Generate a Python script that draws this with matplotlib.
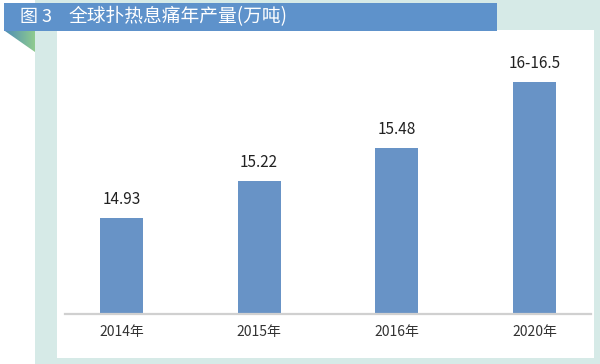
import numpy as np
import matplotlib
matplotlib.use("Agg")
import matplotlib.pyplot as plt
from matplotlib.patches import Rectangle, Polygon

plt.rcParams['font.family'] = ['Noto Sans CJK SC', 'DejaVu Sans']

# data
years = ["2014年", "2015年", "2016年", "2020年"]
output = [14.93, 15.22, 15.48, 16.0]
value_labels = ["14.93", "15.22", "15.48", "16-16.5"]
fig_no = "图 3"
title = "全球扑热息痛年产量(万吨)"

W, H = 600, 364
fig = plt.figure(figsize=(W / 100, H / 100), dpi=100)
fig.patch.set_facecolor("white")

# background decoration in pixel coords
bg = fig.add_axes([0, 0, 1, 1])
bg.axis("off")
bg.add_patch(Rectangle((35, 0), W - 35, H, color="#d6eae7", lw=0))
bg.add_patch(Rectangle((57, 30), 537, 328, color="white", lw=0))
bg.add_patch(Rectangle((4, 3), 493, 28, color="#5e92cb", lw=0))

# folded corner with a gradient
tri = Polygon([(5, 31), (35, 31), (35, 52)], closed=True, facecolor="none", lw=0)
bg.add_patch(tri)
grad = np.linspace(0, 1, 64).reshape(1, -1)
cmap = matplotlib.colors.LinearSegmentedColormap.from_list("fold", ["#4f8fb5", "#8fcb8f"])
im = bg.imshow(grad, extent=(5, 35, 52, 31), cmap=cmap, aspect="auto", zorder=2)
im.set_clip_path(tri)
bg.set_xlim(0, W)
bg.set_ylim(H, 0)

bg.text(20, 17, fig_no, color="white", fontsize=13, va="center", ha="left")
bg.text(69, 17, title, color="white", fontsize=13.5, va="center", ha="left")

# main chart
ax_left, ax_right = 65, 591
ax_bottom, ax_top = 314, 44
ax = fig.add_axes([ax_left / W, (H - ax_bottom) / H,
                   (ax_right - ax_left) / W, (ax_bottom - ax_top) / H])
ax.patch.set_alpha(0)

x = np.arange(len(years))
ax.bar(x, output, width=0.312, color="#6893c6", zorder=2)

px_per_unit = 127.3
y0 = 14.176
ax.set_ylim(y0, y0 + (ax_bottom - ax_top) / px_per_unit)
ax.set_xlim(-0.409, 3.409)

for xi, v, lab in zip(x, output, value_labels):
    ax.annotate(lab, (xi, v), xytext=(0, 7), textcoords="offset points",
                ha="center", va="bottom", fontsize=11, color="#222222")

ax.set_xticks(x)
ax.set_xticklabels(years, fontsize=10, color="#333333")
ax.tick_params(axis="x", length=0, pad=8)
ax.set_yticks([])
for side in ["top", "right", "left"]:
    ax.spines[side].set_visible(False)
ax.spines["bottom"].set_color("#d0d0d0")
ax.spines["bottom"].set_linewidth(1.6)

fig.savefig("out.png", dpi=100)
